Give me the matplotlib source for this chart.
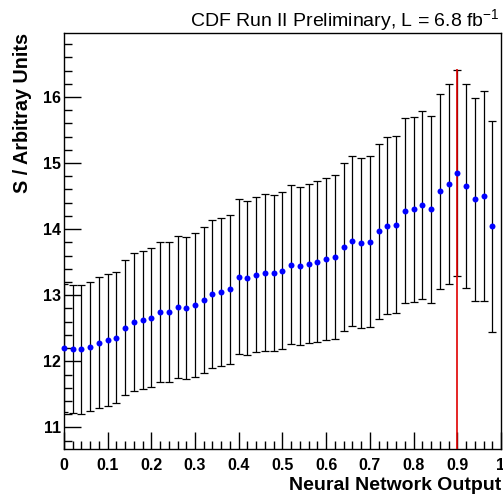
import matplotlib
matplotlib.use("Agg")
import matplotlib.pyplot as plt
from matplotlib.ticker import MultipleLocator

plt.rcParams['font.family'] = ['Liberation Sans', 'DejaVu Sans']

nn_output = [0.00, 0.02, 0.04, 0.06, 0.08, 0.10, 0.12, 0.14, 0.16, 0.18,
             0.20, 0.22, 0.24, 0.26, 0.28, 0.30, 0.32, 0.34, 0.36, 0.38,
             0.40, 0.42, 0.44, 0.46, 0.48, 0.50, 0.52, 0.54, 0.56, 0.58,
             0.60, 0.62, 0.64, 0.66, 0.68, 0.70, 0.72, 0.74, 0.76, 0.78,
             0.80, 0.82, 0.84, 0.86, 0.88, 0.90, 0.92, 0.94, 0.96, 0.98]
signal = [12.20, 12.19, 12.18, 12.22, 12.28, 12.32, 12.36, 12.51, 12.59, 12.63,
          12.66, 12.74, 12.74, 12.82, 12.81, 12.85, 12.93, 13.02, 13.05, 13.09,
          13.28, 13.26, 13.31, 13.34, 13.33, 13.37, 13.46, 13.44, 13.48, 13.51,
          13.55, 13.58, 13.73, 13.82, 13.79, 13.81, 13.97, 14.05, 14.07, 14.28,
          14.30, 14.37, 14.30, 14.57, 14.68, 14.85, 14.65, 14.45, 14.50, 14.04]
errors = [0.97, 0.97, 0.97, 0.975, 0.99, 0.995, 0.995, 1.025, 1.045, 1.045,
          1.05, 1.06, 1.06, 1.075, 1.075, 1.085, 1.10, 1.12, 1.125, 1.13,
          1.17, 1.165, 1.175, 1.185, 1.18, 1.185, 1.205, 1.20, 1.21, 1.22,
          1.23, 1.235, 1.265, 1.285, 1.285, 1.29, 1.325, 1.34, 1.345, 1.395,
          1.40, 1.42, 1.415, 1.48, 1.51, 1.565, 1.545, 1.53, 1.59, 1.60]
cut_x = 0.9
cut_top = 16.42

fig = plt.figure(figsize=(5.03, 4.98), dpi=100)
ax = fig.add_axes([0.127, 0.098, 0.869, 0.836])

ylo, yhi = 10.67, 16.97
ax.errorbar(nn_output, signal, yerr=errors, fmt='none', ecolor='black',
            elinewidth=0.9, capsize=2.6, capthick=0.9, zorder=2)
ax.vlines(cut_x, ylo, cut_top, colors='#e00000', linewidth=1.2, zorder=3)
ax.plot(nn_output, signal, 'o', color='#0000ff', markersize=4.3,
        markeredgewidth=0, zorder=4, clip_on=False)

ax.set_xlim(0, 1)
ax.set_ylim(ylo, yhi)

ax.xaxis.set_major_locator(MultipleLocator(0.1))
ax.xaxis.set_minor_locator(MultipleLocator(0.02))
ax.yaxis.set_major_locator(MultipleLocator(1))
ax.yaxis.set_minor_locator(MultipleLocator(0.2))
ax.tick_params(which='both', direction='in', top=False, right=False, width=1)
ax.tick_params(which='major', length=12, labelsize=11.5)
ax.tick_params(axis='x', which='major', pad=6)
ax.tick_params(axis='y', which='major', pad=2)
ax.tick_params(which='minor', length=6)
ax.set_xticks([0, 0.1, 0.2, 0.3, 0.4, 0.5, 0.6, 0.7, 0.8, 0.9, 1.0])
ax.set_xticklabels(['0', '0.1', '0.2', '0.3', '0.4', '0.5', '0.6', '0.7', '0.8', '0.9', '1'])
for lab in ax.get_xticklabels() + ax.get_yticklabels():
    lab.set_fontweight('bold')
for sp in ax.spines.values():
    sp.set_linewidth(1.0)

ax.set_xlabel('Neural Network Output', fontsize=14, fontweight='bold', loc='right', labelpad=3)
fig.text(22.5 / 503, 0.934, 'S / Arbitray Units', rotation=90, ha='center', va='top',
         fontsize=14.2, fontweight='bold')

fig.text(0.993, 0.946, r'CDF Run II Preliminary, L = 6.8 fb$^{\mathregular{-1}}$',
         ha='right', va='baseline', fontsize=14)

fig.savefig('out.png', dpi=100)
